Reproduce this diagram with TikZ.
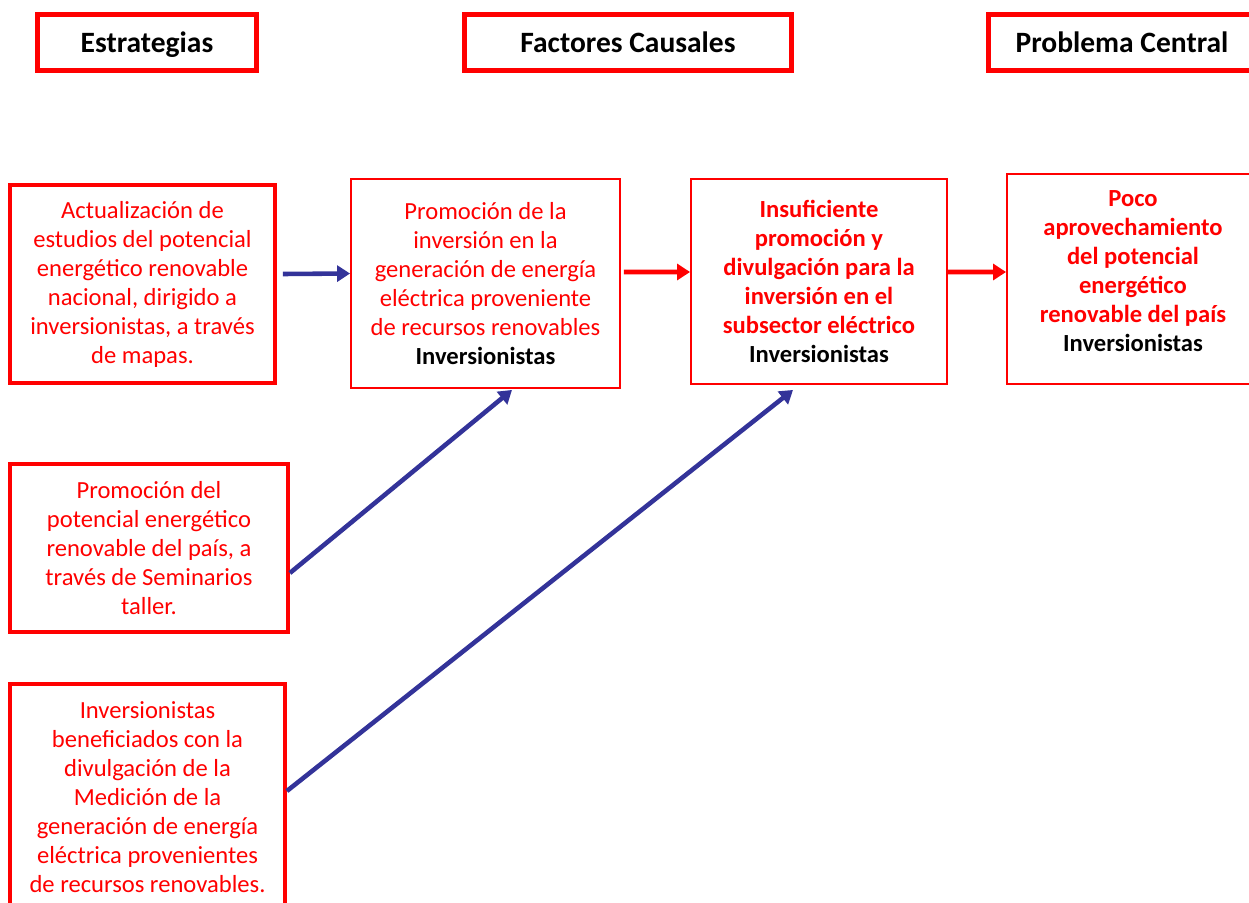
\documentclass[tikz,border=0pt]{standalone}
\usepackage{fontspec}
\setmainfont{Carlito}
\usetikzlibrary{positioning,arrows.meta}
\definecolor{boxred}{RGB}{255,0,0}
\definecolor{linkblue}{RGB}{51,51,153}
% Target group line
\newcommand{\whom}[1]{\textcolor{black}{\textbf{#1}}}
\tikzset{
    % Column headers
    headerbox/.style={
        draw=boxred,
        fill=white,
        line width=2.6pt,
        minimum height=1.12cm,
        text height=14pt,
        text depth=2.6pt,
        align=center,
        text=black,
        font=\bfseries\fontsize{16.8}{19}\selectfont
    },
    % Strategy boxes (thick frame)
    strategybox/.style={
        draw=boxred,
        fill=white,
        line width=2.2pt,
        align=center,
        text=boxred,
        font=\fontsize{14}{16.5}\selectfont
    },
    % Cause and problem boxes (thin frame)
    causebox/.style={
        draw=boxred,
        fill=white,
        line width=1.1pt,
        align=center,
        text=boxred,
        font=\fontsize{14}{16.5}\selectfont
    },
    % Strategy arrows
    bluearrow/.style={
        -{Triangle[length=0.26cm,width=0.32cm]},
        line width=2.6pt,
        linkblue
    },
    % Cause arrows
    redarrow/.style={
        -{Triangle[length=0.26cm,width=0.32cm]},
        line width=2.6pt,
        boxred
    }
}

\begin{document}
\begin{tikzpicture}[x=0.02cm, y=-0.02cm]

\clip (0, 0) rectangle (1249, 903);

% ==================== HEADERS ====================
\node[headerbox, minimum width=4.38cm] (hstrat) at (147, 42.5) {Estrategias};
\node[headerbox, minimum width=6.54cm] (hcause) at (628, 42.5) {Factores Causales};
\node[headerbox, minimum width=5.34cm] (hprob) at (1122, 42.5) {Problema Central};

% ==================== STRATEGIES ====================
\node[strategybox, minimum width=5.3cm, minimum height=3.96cm] (estr1) at (142.5, 284)
    {Actualización de\\estudios del potencial\\energético renovable\\nacional, dirigido a\\inversionistas, a través\\de mapas.};
\node[strategybox, minimum width=5.56cm, minimum height=3.36cm] (estr2) at (149, 548)
    {Promoción del\\potencial energético\\renovable del país, a\\través de Seminarios\\taller.};
\node[strategybox, minimum width=5.5cm, minimum height=4.54cm] (estr3) at (147.5, 797.5)
    {Inversionistas\\beneficiados con la\\divulgación de la\\Medición de la\\generación de energía\\eléctrica provenientes\\de recursos renovables.};

% ==================== CAUSES ====================
\node[causebox, minimum width=5.38cm, minimum height=4.18cm] (promo) at (485.5, 283.5)
    {Promoción de la\\inversión en la\\generación de energía\\eléctrica proveniente\\de recursos renovables\\\whom{Inversionistas}};
\node[causebox, minimum width=5.12cm, minimum height=4.1cm, font=\bfseries\fontsize{14}{16.5}\selectfont] (insuf) at (819, 281.5)
    {Insuficiente\\promoción y\\divulgación para la\\inversión en el\\subsector eléctrico\\\whom{Inversionistas}};

% ==================== CENTRAL PROBLEM ====================
\node[causebox, minimum width=5.04cm, minimum height=4.2cm, text depth=9pt, font=\bfseries\fontsize{14}{16.5}\selectfont] (poco) at (1133, 279)
    {Poco\\aprovechamiento\\del potencial\\energético\\renovable del país\\\whom{Inversionistas}};

% ==================== ARROWS ====================
\draw[bluearrow] ([xshift=0.12cm, yshift=0.2cm]estr1.east) -- ([yshift=0.2cm]promo.west);
\draw[bluearrow] ([yshift=-0.5cm]estr2.east) -- ([xshift=0.53cm, yshift=-0.02cm]promo.south);
\draw[bluearrow] ([yshift=0.13cm]estr3.east) -- ([xshift=-0.52cm, yshift=-0.1cm]insuf.south);

\draw[redarrow] ([xshift=0.06cm, yshift=0.23cm]promo.east) -- ([yshift=0.19cm]insuf.west);
\draw[redarrow] ([yshift=0.19cm]insuf.east) -- ([yshift=0.14cm]poco.west);

\end{tikzpicture}
\end{document}
